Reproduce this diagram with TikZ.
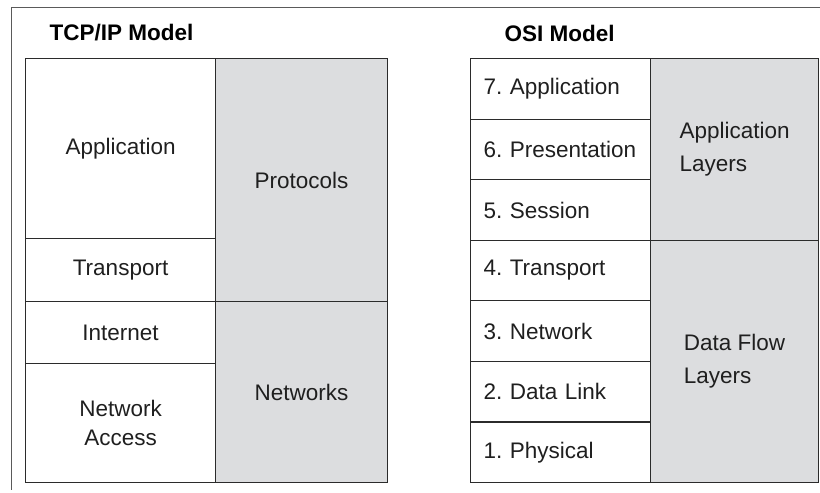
\documentclass[tikz,border=0pt]{standalone}
\usepackage{fontspec}
\setmainfont{Liberation Sans}
\usetikzlibrary{positioning}
\definecolor{layergray}{HTML}{DCDDDF}
\definecolor{edgeblack}{HTML}{2B2B2B}
\definecolor{framegray}{HTML}{5A5A5A}
\frenchspacing

\begin{document}
\begin{tikzpicture}[
  x=1pt, y=-1pt,
  every node/.style={font=\fontsize{22.5}{29}\selectfont, text=black!88},
  layer/.style={rectangle, draw=edgeblack, line width=1.1pt, inner sep=0pt, anchor=north west, align=center, minimum width=#1},
  layer/.default=190pt,
  group/.style={layer=172pt, fill=layergray},
  osi/.style={rectangle, draw=edgeblack, line width=1.1pt, anchor=north west, inner xsep=13pt, inner ysep=0pt, text width=154pt, align=left, minimum height=60.57pt},
  osigroup/.style={rectangle, draw=edgeblack, line width=1.1pt, anchor=north west, inner sep=0pt, minimum width=168pt, fill=layergray, align=left, font=\fontsize{22.5}{32.5}\selectfont},
  title/.style={anchor=west, font=\fontsize{22.5}{27}\selectfont\bfseries, text=black},
]
\useasboundingbox (0,0) rectangle (820,493);

% outer frame (only top and left edges show)
\draw[framegray, line width=1pt] (820,7) -- (11,7) -- (11,490);

\node[title] (tcptitle) at (46,33) {TCP/IP Model};
\node[title] (osititle) at (501,33) {OSI Model};

% TCP/IP model
\node[layer, minimum height=180pt] (tapp) at (25,58) {Application};
\node[layer, minimum height=63pt] (ttrans) at (25,238) {Transport};
\node[layer, minimum height=62pt] (tinet) at (25,301) {Internet};
\node[layer, minimum height=119pt] (tnet) at (25,363) {Network\\Access};
\node[group, minimum height=243pt] (protocols) at (215,58) {Protocols};
\node[group, minimum height=181pt] (networks) at (215,301) {Networks};

% OSI model
\node[osi] (l7) at (470,58) {7. Application};
\node[osi] (l6) at (470,118.57) {6. Presentation};
\node[osi] (l5) at (470,179.14) {5. Session};
\node[osi] (l4) at (470,239.71) {4. Transport};
\node[osi] (l3) at (470,300.28) {3. Network};
\node[osi] (l2) at (470,360.85) {2. Data Link};
\node[osi] (l1) at (470,421.42) {1. Physical};
\node[osigroup, minimum height=181.71pt] (applayers) at (650,58) {Application\\Layers};
\node[osigroup, minimum height=242.28pt] (flowlayers) at (650,239.71) {Data Flow\\Layers};

\end{tikzpicture}
\end{document}
